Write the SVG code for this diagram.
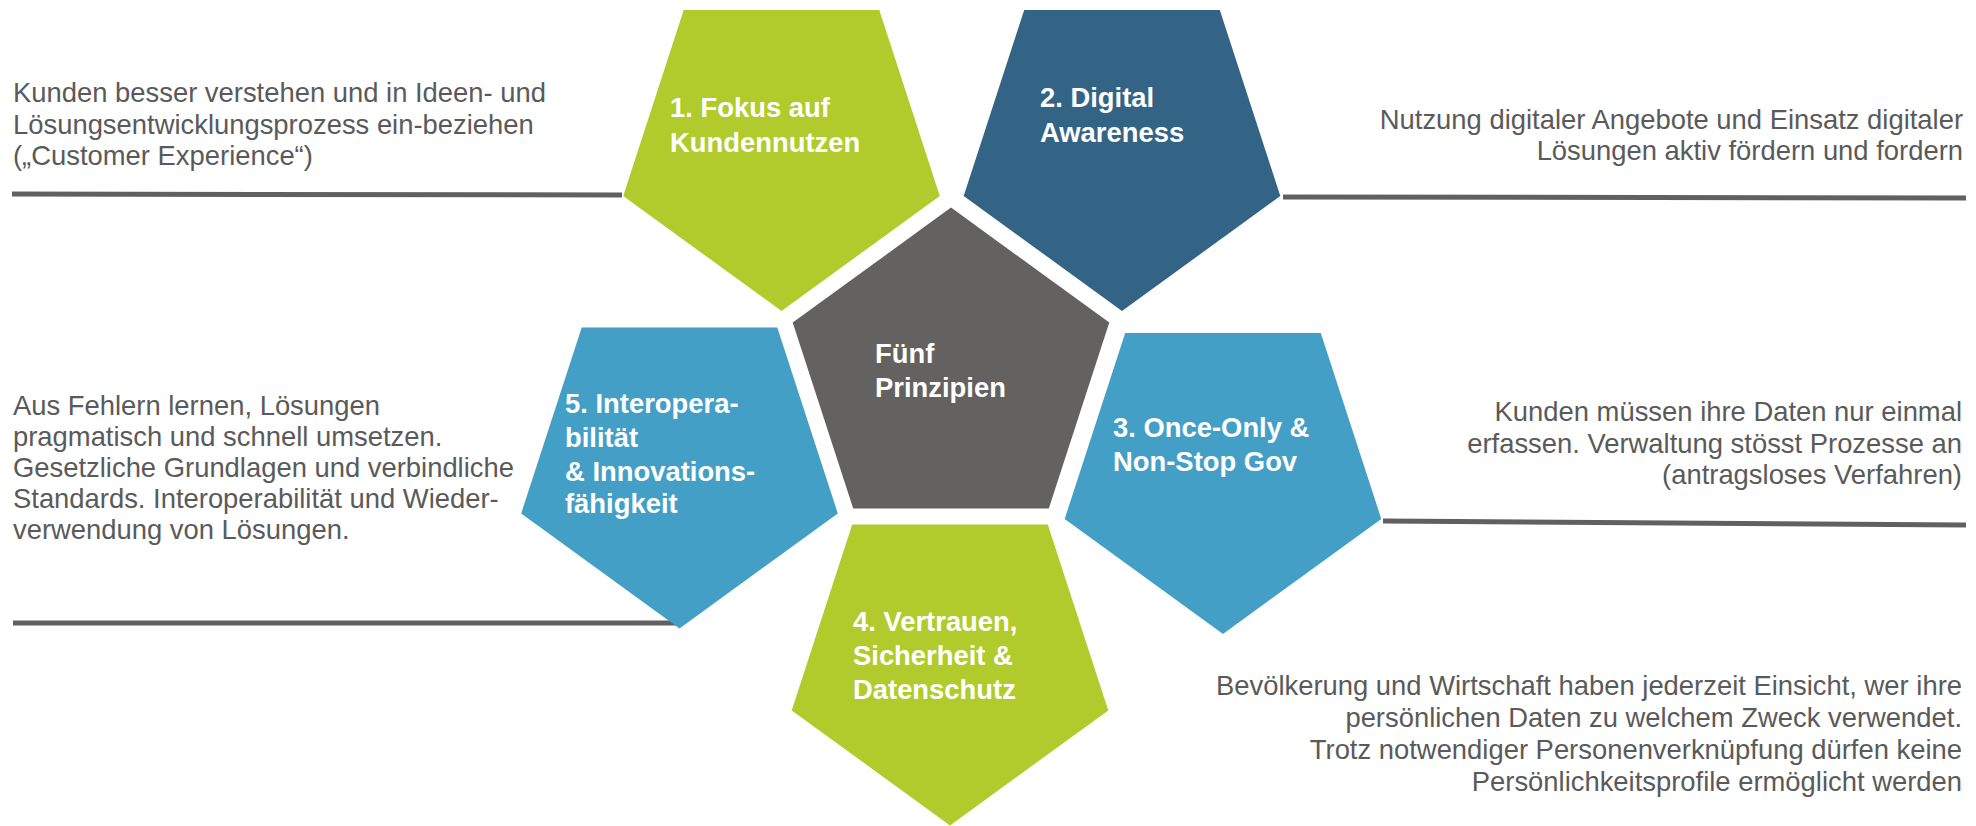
<svg xmlns="http://www.w3.org/2000/svg" width="1976" height="826" viewBox="0 0 1976 826">
<style>
.desc{font-family:"Liberation Sans",Arial,sans-serif;font-size:27.4px;fill:#5a5a5a}
.r{text-anchor:end}
.lbl{font-family:"Liberation Sans",Arial,sans-serif;font-size:27.4px;font-weight:bold;fill:#ffffff}
.green{fill:#b2cb2c}
.dblue{fill:#336486}
.lblue{fill:#449fc6}
.gray{fill:#636260}
.conn{stroke:#606060;stroke-width:5;fill:none}
</style>
<defs>
<polygon id="pd" points="0,166.4 -158.3,51.4 -97.8,-134.6 97.8,-134.6 158.3,51.4"/>
<polygon id="pu" points="0,-166.4 158.3,-51.4 97.8,134.6 -97.8,134.6 -158.3,-51.4"/>
</defs>
<rect width="1976" height="826" fill="#ffffff"/>
<g id="connectors">
<line class="conn" x1="12" y1="194" x2="622" y2="195"/>
<line class="conn" x1="1283" y1="197" x2="1966" y2="198"/>
<line class="conn" x1="1383" y1="521" x2="1966" y2="525"/>
<line class="conn" x1="13" y1="623" x2="676" y2="623"/>
</g>
<g id="node-center">
<use href="#pu" x="951" y="374" class="gray"/>
<text class="lbl" x="875" y="363">Fünf</text>
<text class="lbl" x="875" y="397">Prinzipien</text>
</g>
<g id="node-1">
<use href="#pd" x="781.5" y="144.6" class="green"/>
<text class="lbl" x="670" y="117">1. Fokus auf</text>
<text class="lbl" x="670" y="152">Kundennutzen</text>
</g>
<g id="node-2">
<use href="#pd" x="1122" y="144.6" class="dblue"/>
<text class="lbl" x="1040" y="107">2. Digital</text>
<text class="lbl" x="1040" y="142">Awareness</text>
</g>
<g id="node-3">
<use href="#pd" x="1223" y="467.5" class="lblue"/>
<text class="lbl" x="1113" y="437">3. Once-Only &amp;</text>
<text class="lbl" x="1113" y="471">Non-Stop Gov</text>
</g>
<g id="node-4">
<use href="#pd" x="950" y="659" class="green"/>
<text class="lbl" x="853" y="631">4. Vertrauen,</text>
<text class="lbl" x="853" y="665">Sicherheit &amp;</text>
<text class="lbl" x="853" y="699">Datenschutz</text>
</g>
<g id="node-5">
<use href="#pd" x="679.5" y="462" class="lblue"/>
<text class="lbl" x="565" y="413">5. Interopera-</text>
<text class="lbl" x="565" y="447">bilität</text>
<text class="lbl" x="565" y="481">&amp; Innovations-</text>
<text class="lbl" x="565" y="513">fähigkeit</text>
</g>
<g id="desc-1">
<text class="desc" x="13" y="102">Kunden besser verstehen und in Ideen- und</text>
<text class="desc" x="13" y="133.5">Lösungsentwicklungsprozess ein-beziehen</text>
<text class="desc" x="13" y="165">(„Customer Experience“)</text>
</g>
<g id="desc-2">
<text class="desc r" x="1963" y="129">Nutzung digitaler Angebote und Einsatz digitaler</text>
<text class="desc r" x="1963" y="160">Lösungen aktiv fördern und fordern</text>
</g>
<g id="desc-3">
<text class="desc r" x="1962" y="421">Kunden müssen ihre Daten nur einmal</text>
<text class="desc r" x="1962" y="452.5">erfassen. Verwaltung stösst Prozesse an</text>
<text class="desc r" x="1962" y="484">(antragsloses Verfahren)</text>
</g>
<g id="desc-4">
<text class="desc r" x="1962" y="695">Bevölkerung und Wirtschaft haben jederzeit Einsicht, wer ihre</text>
<text class="desc r" x="1962" y="727">persönlichen Daten zu welchem Zweck verwendet.</text>
<text class="desc r" x="1962" y="759">Trotz notwendiger Personenverknüpfung dürfen keine</text>
<text class="desc r" x="1962" y="791">Persönlichkeitsprofile ermöglicht werden</text>
</g>
<g id="desc-5">
<text class="desc" x="13" y="415">Aus Fehlern lernen, Lösungen</text>
<text class="desc" x="13" y="446">pragmatisch und schnell umsetzen.</text>
<text class="desc" x="13" y="477">Gesetzliche Grundlagen und verbindliche</text>
<text class="desc" x="13" y="508">Standards. Interoperabilität und Wieder-</text>
<text class="desc" x="13" y="539">verwendung von Lösungen.</text>
</g>
</svg>
